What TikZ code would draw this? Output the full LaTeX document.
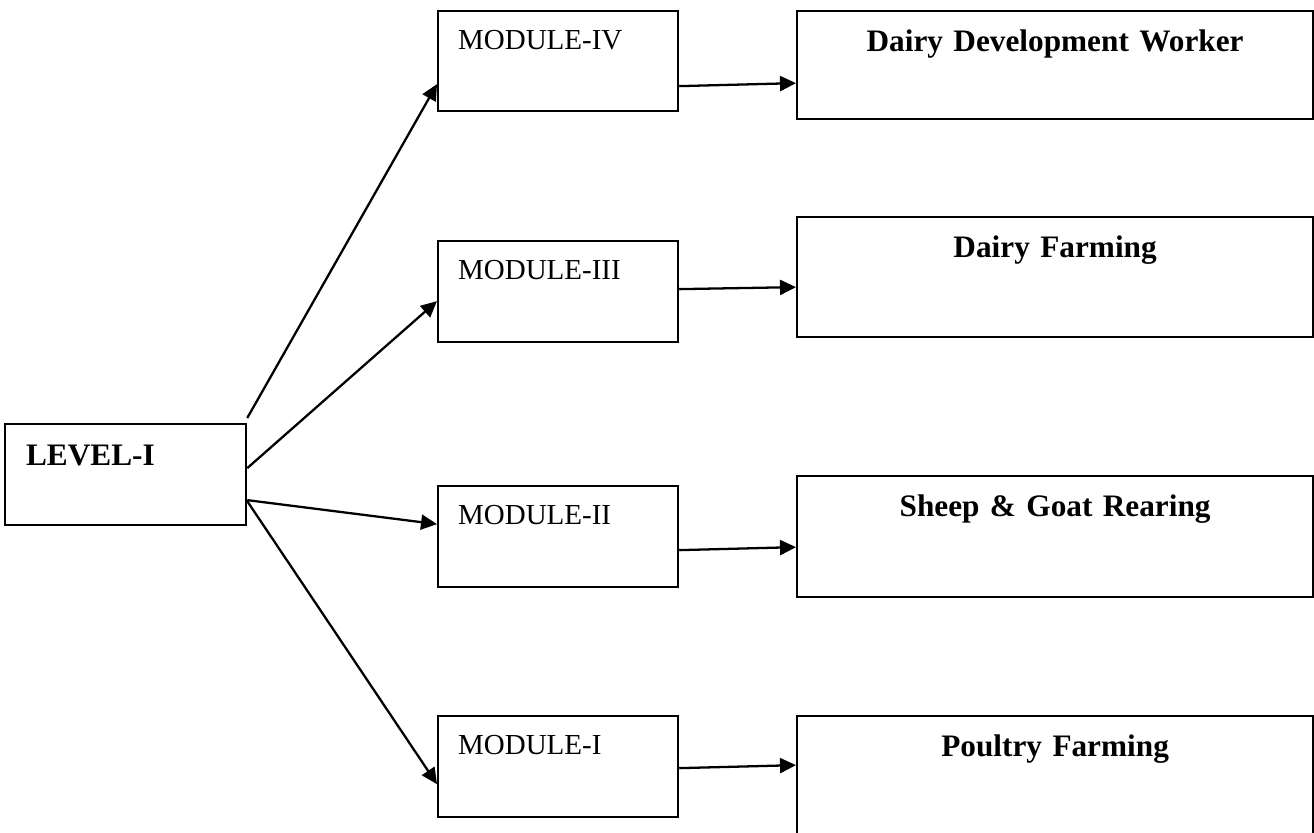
\documentclass[tikz,border=0pt]{standalone}
\usepackage{fontspec}
\setmainfont{Liberation Serif}
\usetikzlibrary{arrows.meta,positioning,calc}

\begin{document}
\begin{tikzpicture}[x=0.02cm, y=-0.02cm,
    lvlbox/.style={rectangle, draw, line width=1.3pt, inner sep=0pt, anchor=north west,
                   text width=3.98cm, inner xsep=0.42cm, align=left,
                   text height=0.82cm, text depth=1.2cm,
                   font=\fontsize{17.8}{21}\selectfont\bfseries},
    modbox/.style={rectangle, draw, line width=1.3pt, inner sep=0pt, anchor=north west,
                   text width=4.0cm, inner xsep=0.4cm, align=left,
                   text height=0.76cm, font=\fontsize{16.5}{20}\selectfont},
    jobbox/.style={rectangle, draw, line width=1.3pt, inner sep=0pt, anchor=north west,
                   text width=10.32cm, align=center, text height=0.81cm,
                   font=\fontsize{17.8}{21}\selectfont\bfseries},
    link/.style={line width=1.3pt, -{Triangle[length=0.32cm, width=0.3cm]}}
  ]
    \useasboundingbox (0,0) rectangle (1314,832);

    % Level
    \node[lvlbox] (lvl) at (4,423) {LEVEL-I};

    % Modules
    \node[modbox, text depth=1.24cm] (m4) at (437,10)  {MODULE-IV};
    \node[modbox, text depth=1.26cm] (m3) at (437,240) {MODULE-III};
    \node[modbox, text depth=1.26cm] (m2) at (437,485) {MODULE-II};
    \node[modbox, text depth=1.26cm] (m1) at (437,715) {MODULE-I};

    % Trades
    \node[jobbox, text depth=1.35cm] (d4) at (796,10)  {Dairy Development Worker};
    \node[jobbox, text depth=1.59cm] (df) at (796,216) {Dairy Farming};
    \node[jobbox, text depth=1.61cm] (sg) at (796,475) {Sheep \& Goat Rearing};
    \node[jobbox, text depth=1.59cm] (pf) at (796,715) {Poultry Farming};

    % Level to modules
    \draw[link] ([yshift=0.1cm]lvl.north east) -- ([yshift=-0.46cm]m4.west);
    \draw[link] ([yshift=0.13cm]lvl.east) -- ([yshift=-0.19cm]m3.west);
    \draw[link] ([yshift=-0.51cm]lvl.east) -- ([yshift=0.25cm]m2.west);
    \draw[link] ([yshift=-0.53cm]lvl.east) -- ([yshift=-0.35cm]m1.west);

    % Modules to trades
    \draw[link] ([yshift=-0.5cm]m4.east) -- ([yshift=-0.36cm]d4.west);
    \draw[link] ([yshift=0.05cm]m3.east) -- ([yshift=-0.2cm]df.west);
    \draw[link] ([yshift=-0.27cm]m2.east) -- ([yshift=-0.21cm]sg.west);
    \draw[link] ([yshift=-0.03cm]m1.east) -- ([yshift=0.22cm]pf.west);
  \end{tikzpicture}
\end{document}
